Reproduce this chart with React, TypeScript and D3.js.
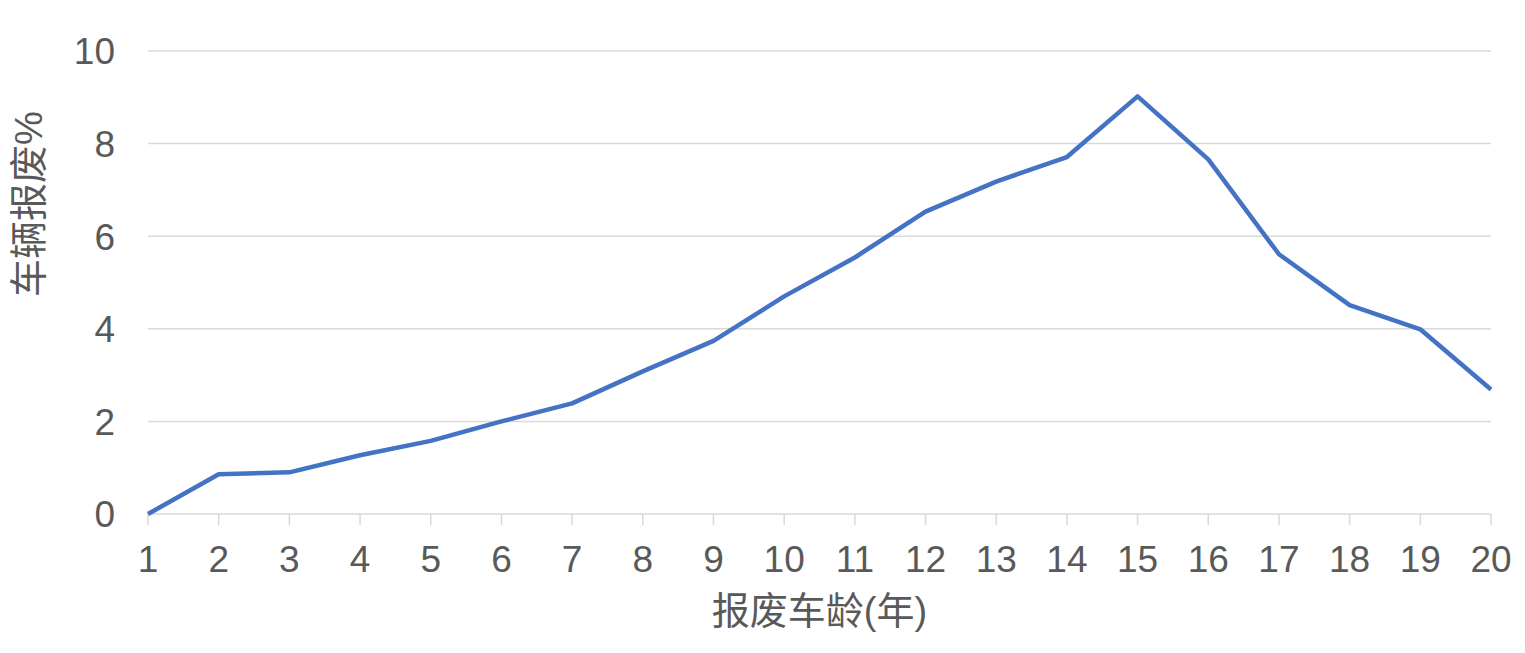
import React from "react";
import * as d3 from "d3";

const categories: number[] = [1, 2, 3, 4, 5, 6, 7, 8, 9, 10, 11, 12, 13, 14, 15, 16, 17, 18, 19, 20];
const values: number[] = [0, 0.86, 0.9, 1.27, 1.58, 2.0, 2.39, 3.08, 3.74, 4.7, 5.54, 6.53, 7.18, 7.71, 9.02, 7.66, 5.61, 4.51, 3.99, 2.69];
const yTicks: number[] = [0, 2, 4, 6, 8, 10];
const xTitle = "报废车龄(年)";
const yTitle = "车辆报废%";

const W = 1525;
const H = 653;
const left = 148;
const right = 1491;
const top = 51;
const bottom = 514;
const font = "'Liberation Sans', Arial, 'Noto Sans CJK SC', sans-serif";
const textColor = "#595959";
const gridColor = "#d9d9d9";
const lineColor = "#4472C4";

export default function App() {
  const x = d3.scaleLinear().domain([1, 20]).range([left, right]);
  const y = d3.scaleLinear().domain([0, 10]).range([bottom, top]);
  const line = d3
    .line<number>()
    .x((_, i) => x(categories[i]))
    .y((d) => y(d));

  return (
    <svg
      width={W}
      height={H}
      style={{ position: "absolute", left: 0, top: 0, background: "#fff" }}
      fontFamily={font}
    >
      {yTicks.map((t) => (
        <g key={t}>
          <line x1={left} x2={right} y1={y(t)} y2={y(t)} stroke={gridColor} strokeWidth={1.5} />
          <text
            x={115}
            y={y(t)}
            dy="0.36em"
            textAnchor="end"
            fontSize={37}
            fill={textColor}
          >
            {t}
          </text>
        </g>
      ))}
      {categories.map((c) => (
        <g key={c}>
          <line x1={x(c)} x2={x(c)} y1={bottom} y2={bottom + 11} stroke={gridColor} strokeWidth={1.5} />
          <text x={x(c)} y={572} textAnchor="middle" fontSize={37} fill={textColor}>
            {c}
          </text>
        </g>
      ))}
      <path d={line(values) || ""} fill="none" stroke={lineColor} strokeWidth={4.5} strokeLinejoin="round" />
      <text x={(left + right) / 2} y={624} textAnchor="middle" fontSize={38} fill={textColor}>
        {xTitle}
      </text>
      <text
        transform={`translate(42,204) rotate(-90)`}
        textAnchor="middle"
        fontSize={38}
        fill={textColor}
      >
        {yTitle}
      </text>
    </svg>
  );
}
